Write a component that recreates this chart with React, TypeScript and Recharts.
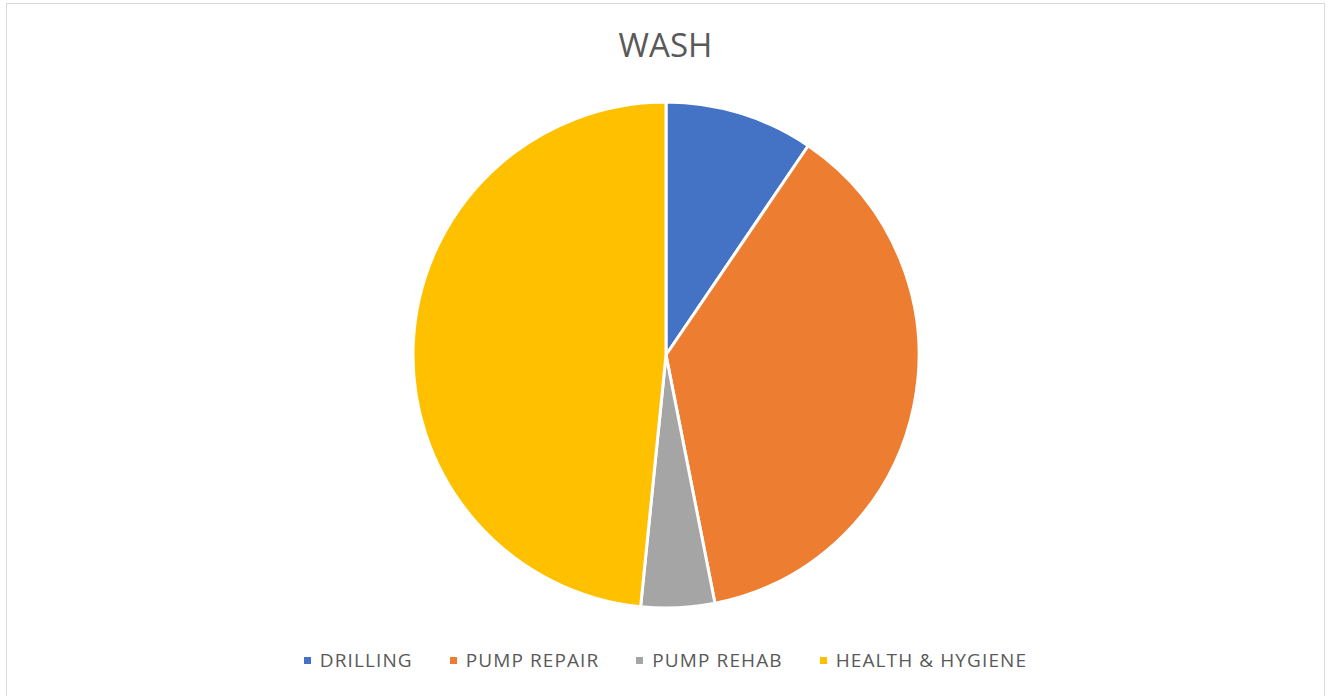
import React from "react";
import { PieChart, Pie, Cell } from "recharts";

const categories = ["DRILLING", "PUMP REPAIR", "PUMP REHAB", "HEALTH & HYGIENE"];
const values = [9.5, 37.4, 4.7, 48.4];
const colors = ["#4472C4", "#ED7D31", "#A5A5A5", "#FFC000"];
const title = "WASH";

const data = categories.map((name, i) => ({ name, value: values[i] }));

const FONT = "'Open Sans', 'DejaVu Sans', sans-serif";

export default function App() {
  return (
    <div
      style={{
        position: "fixed",
        left: 6,
        top: 3,
        width: 1319,
        height: 700,
        border: "1px solid #d9d9d9",
        boxSizing: "border-box",
        background: "#fff",
      }}
    >
      <div
        style={{
          position: "absolute",
          left: 0,
          right: 0,
          top: 21,
          textAlign: "center",
          fontFamily: FONT,
          fontSize: 33,
          color: "#595959",
          lineHeight: "40px",
        }}
      >
        {title}
      </div>
      <PieChart width={1317} height={698} margin={{ top: 0, right: 0, bottom: 0, left: 0 }}>
        <Pie
          data={data}
          dataKey="value"
          nameKey="name"
          cx={659}
          cy={351}
          outerRadius={253}
          startAngle={90}
          endAngle={-270}
          stroke="#ffffff"
          strokeWidth={3}
          isAnimationActive={false}
        >
          {data.map((d, i) => (
            <Cell key={d.name} fill={colors[i]} />
          ))}
        </Pie>
      </PieChart>
      <div
        style={{
          position: "absolute",
          left: 0,
          right: 0,
          top: 641,
          height: 30,
          display: "flex",
          justifyContent: "center",
          alignItems: "center",
          gap: 37,
          fontFamily: FONT,
          fontSize: 19,
          letterSpacing: 1.1,
          color: "#595959",
          whiteSpace: "nowrap",
        }}
      >
        {categories.map((c, i) => (
          <div key={c} style={{ display: "flex", alignItems: "center" }}>
            <span
              style={{
                display: "inline-block",
                width: 7,
                height: 7,
                background: colors[i],
                marginRight: 9,
              }}
            />
            <span>{c}</span>
          </div>
        ))}
      </div>
    </div>
  );
}
